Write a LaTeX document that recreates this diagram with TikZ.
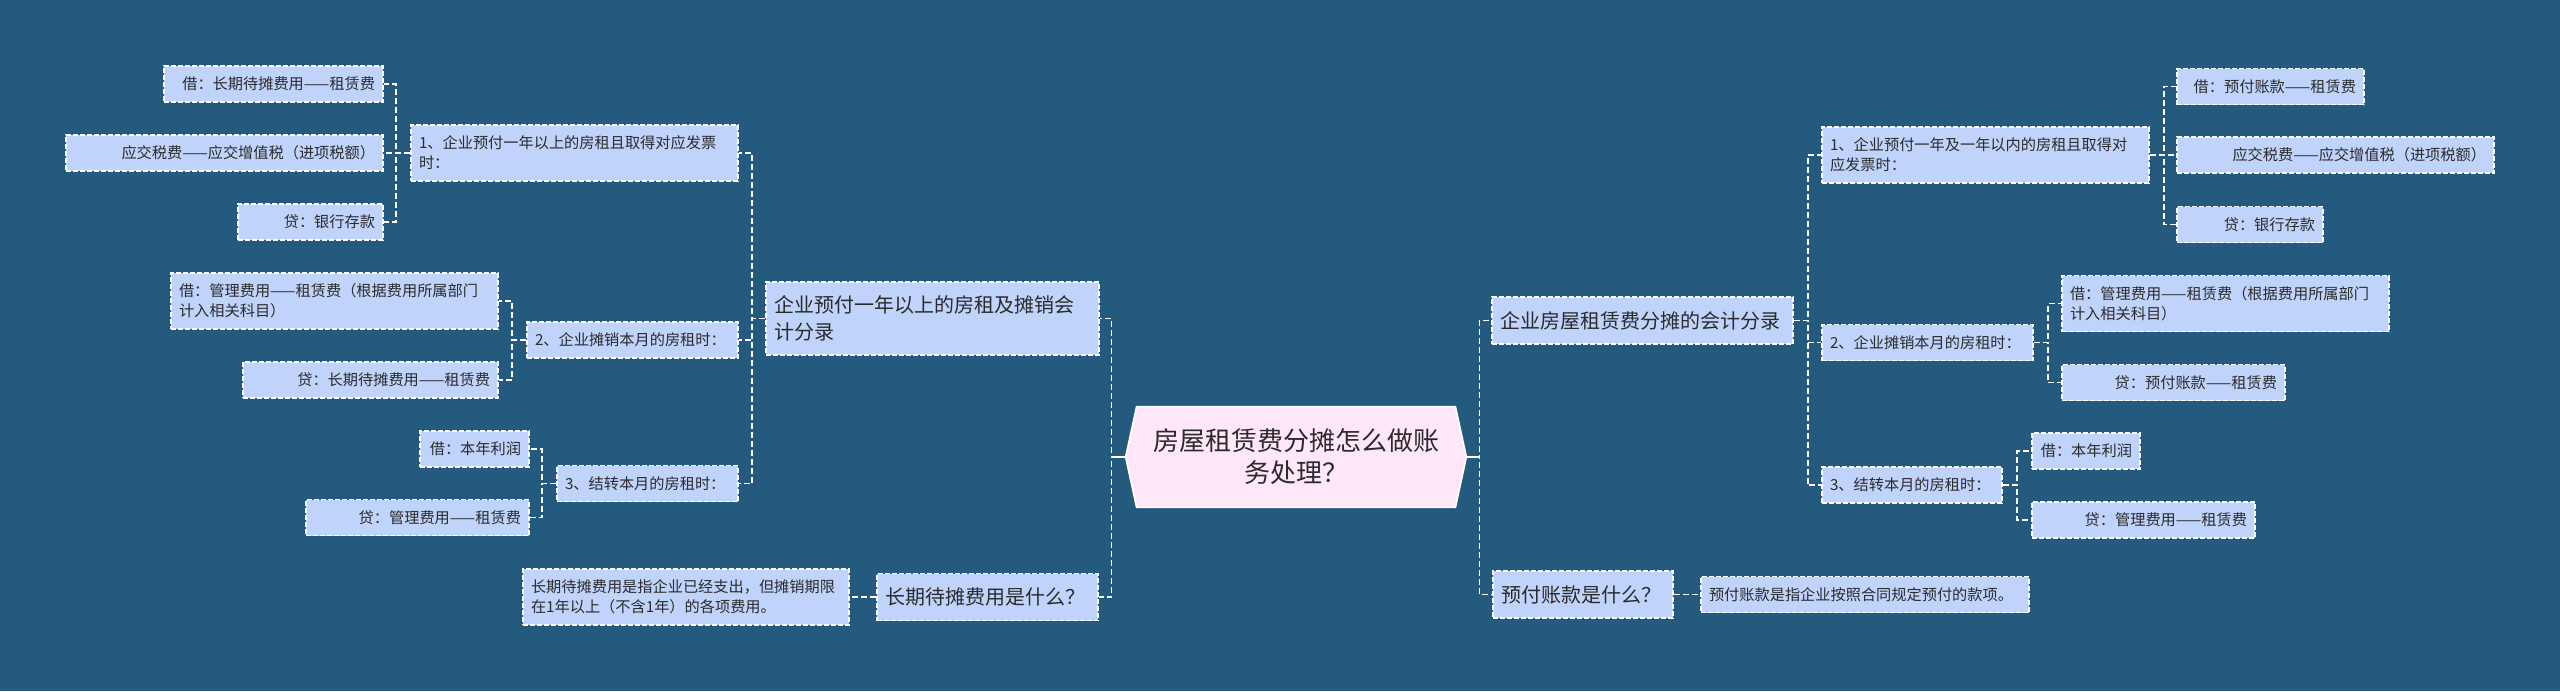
\documentclass[tikz,border=0pt]{standalone}
\usepackage{fontspec}
\setmainfont{Noto Sans CJK SC}
\usetikzlibrary{backgrounds}

\definecolor{bgblue}{HTML}{245A7D}
\definecolor{boxblue}{HTML}{BFD3FB}
\definecolor{rootpink}{HTML}{FFE6F8}
\definecolor{inkgray}{HTML}{2B2B2B}

\tikzset{
  box/.style={fill=boxblue, draw=white, line width=0.85pt, dash pattern=on 2.5pt off 1pt,
    text=inkgray, inner xsep=4pt, inner ysep=0pt},
  leaf/.style={box, align=right, minimum height=18pt, font=\fontsize{7.6pt}{10pt}\selectfont},
  entry/.style={box, align=left, minimum height=18pt, font=\fontsize{7.6pt}{10pt}\selectfont},
  branch/.style={box, align=left, minimum height=23.5pt, font=\fontsize{10pt}{13.5pt}\selectfont},
  roottext/.style={text=inkgray, align=center, inner sep=0pt, minimum width=170pt,
    minimum height=50pt, font=\fontsize{13pt}{16pt}\selectfont},
  rootshape/.style={fill=rootpink, draw=white, line width=0.8pt},
  link/.style={draw=white, line width=0.8pt, dash pattern=on 3pt off 1.5pt},
  rootlink/.style={draw=white, line width=1pt}
}

\begin{document}
\begin{tikzpicture}[x=0.5pt, y=-0.5pt]

	\useasboundingbox (0,0) rectangle (2560,691);
	\begin{pgfonlayer}{background}
		\fill [bgblue] (0,0) rectangle (2560,691);
	\end{pgfonlayer}

%centre
	\node [roottext] (root) at (1296,457) {房屋租赁费分摊怎么做账\\务处理？};
	\begin{pgfonlayer}{background}
		\filldraw [rootshape] ([xshift=5.5pt]root.north west) -- ([xshift=-5.5pt]root.north east)
			-- (root.east) -- ([xshift=-5.5pt]root.south east) -- ([xshift=5.5pt]root.south west)
			-- (root.west) -- cycle;
	\end{pgfonlayer}

%left side
	\node [branch, text width=158.5pt, minimum height=36.5pt] (A) at (932.5,318.5) {企业预付一年以上的房租及摊销会\\计分录};
	\node [branch, text width=102.5pt] (B) at (987.5,597) {长期待摊费用是什么？};
	\node [entry, text width=155pt, minimum height=28pt] (BA) at (686,597) {长期待摊费用是指企业已经支出，但摊销期限\\在1年以上（不含1年）的各项费用。};
	%
	\node [entry, text width=155.5pt, minimum height=28pt] (AA) at (574.5,153) {1、企业预付一年以上的房租且取得对应发票\\时：};
	\node [entry, text width=97.5pt] (AB) at (632.5,340) {2、企业摊销本月的房租时：};
	\node [entry, text width=82.5pt] (AC) at (647.5,483.5) {3、结转本月的房租时：};
	%
	\node [leaf, text width=101.5pt] (AAA) at (273.5,84) {借：长期待摊费用——租赁费};
	\node [leaf, text width=150.5pt] (AAB) at (224.5,153) {应交税费——应交增值税（进项税额）};
	\node [leaf, text width=64.5pt] (AAC) at (310.5,222) {贷：银行存款};
	\node [leaf, text width=155.5pt, align=left, minimum height=28pt] (ABA) at (334.5,301) {借：管理费用——租赁费（根据费用所属部门\\计入相关科目）};
	\node [leaf, text width=119.5pt] (ABB) at (370.5,380) {贷：长期待摊费用——租赁费};
	\node [leaf, text width=46.5pt] (ACA) at (474.5,449) {借：本年利润};
	\node [leaf, text width=103.5pt] (ACB) at (417.5,517.5) {贷：管理费用——租赁费};

%right side
	\node [branch, text width=142.5pt] (C) at (1642.5,320.5) {企业房屋租赁费分摊的会计分录};
	\node [branch, text width=82pt] (D) at (1583,594.5) {预付账款是什么？};
	\node [entry, text width=156pt] (DA) at (1865,594.5) {预付账款是指企业按照合同规定预付的款项。};
	%
	\node [entry, text width=155.5pt, minimum height=28pt] (CA) at (1985.5,155) {1、企业预付一年及一年以内的房租且取得对\\应发票时：};
	\node [entry, text width=97.5pt] (CB) at (1927.5,342.5) {2、企业摊销本月的房租时：};
	\node [entry, text width=82pt] (CC) at (1912,485) {3、结转本月的房租时：};
	%
	\node [leaf, text width=85.5pt] (CAA) at (2270.5,86.5) {借：预付账款——租赁费};
	\node [leaf, text width=150.5pt] (CAB) at (2335.5,155) {应交税费——应交增值税（进项税额）};
	\node [leaf, text width=65pt] (CAC) at (2250,224.5) {贷：银行存款};
	\node [leaf, text width=155.5pt, align=left, minimum height=28pt] (CBA) at (2225.5,303.5) {借：管理费用——租赁费（根据费用所属部门\\计入相关科目）};
	\node [leaf, text width=103.5pt] (CBB) at (2173.5,382.5) {贷：预付账款——租赁费};
	\node [leaf, text width=46pt] (CCA) at (2086,451) {借：本年利润};
	\node [leaf, text width=103.5pt] (CCB) at (2143.5,520) {贷：管理费用——租赁费};

%links left
	\draw [link] (root.west) -- ++(-14,0) |- (A.east);
	\draw [link] (root.west) -- ++(-14,0) |- (B.east);
	\draw [rootlink] (root.west) -- ++(-14,0);
	\draw [link] (B.west) -- (BA.east);
	\draw [link] (A.west) -- ++(-13,0) |- (AA.east);
	\draw [link] (A.west) -- ++(-13,0) |- (AB.east);
	\draw [link] (A.west) -- ++(-13,0) |- (AC.east);
	\draw [link] (AA.west) -- ++(-14,0) |- (AAA.east);
	\draw [link] (AA.west) -- ++(-14,0) |- (AAB.east);
	\draw [link] (AA.west) -- ++(-14,0) |- (AAC.east);
	\draw [link] (AB.west) -- ++(-14,0) |- (ABA.east);
	\draw [link] (AB.west) -- ++(-14,0) |- (ABB.east);
	\draw [link] (AC.west) -- ++(-14,0) |- (ACA.east);
	\draw [link] (AC.west) -- ++(-14,0) |- (ACB.east);

%links right
	\draw [link] (root.east) -- ++(13,0) |- (C.west);
	\draw [link] (root.east) -- ++(13,0) |- (D.west);
	\draw [rootlink] (root.east) -- ++(13,0);
	\draw [link] (D.east) -- (DA.west);
	\draw [link] (C.east) -- ++(14,0) |- (CA.west);
	\draw [link] (C.east) -- ++(14,0) |- (CB.west);
	\draw [link] (C.east) -- ++(14,0) |- (CC.west);
	\draw [link] (CA.east) -- ++(14,0) |- (CAA.west);
	\draw [link] (CA.east) -- ++(14,0) |- (CAB.west);
	\draw [link] (CA.east) -- ++(14,0) |- (CAC.west);
	\draw [link] (CB.east) -- ++(14,0) |- (CBA.west);
	\draw [link] (CB.east) -- ++(14,0) |- (CBB.west);
	\draw [link] (CC.east) -- ++(14,0) |- (CCA.west);
	\draw [link] (CC.east) -- ++(14,0) |- (CCB.west);

\end{tikzpicture}
\end{document}
